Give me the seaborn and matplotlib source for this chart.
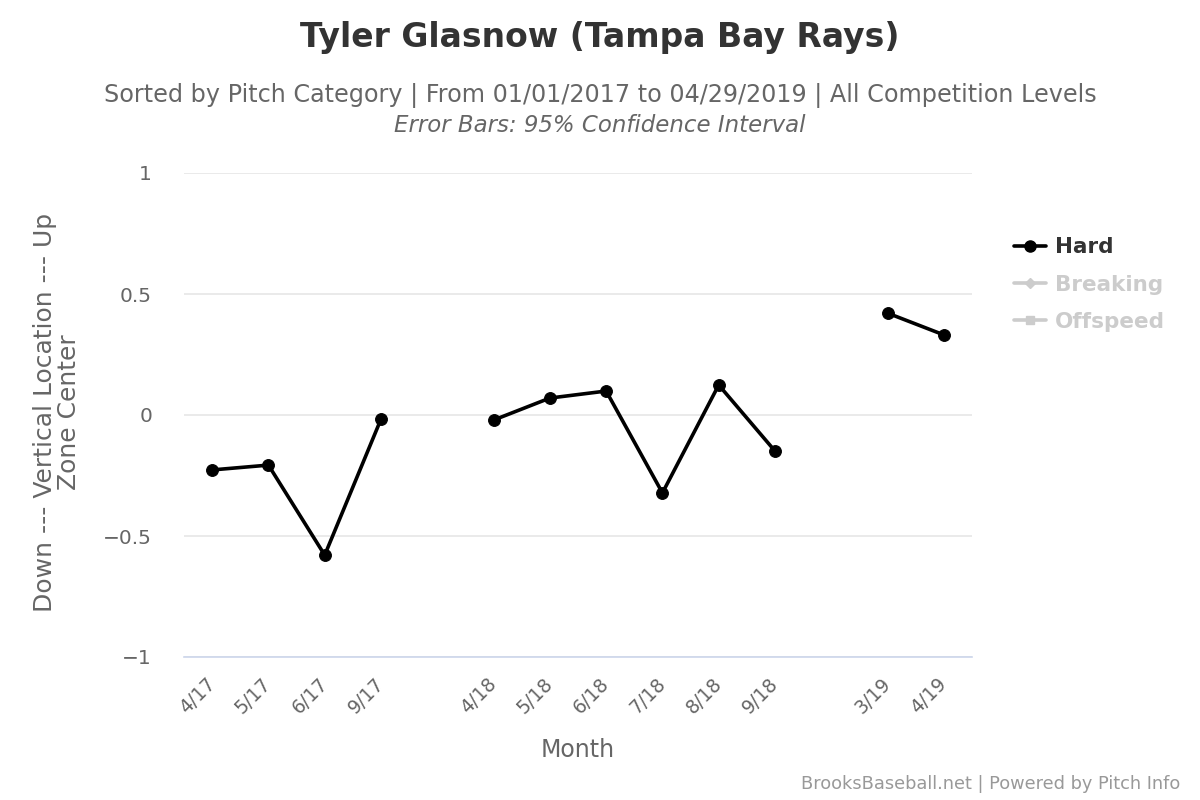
import numpy as np
import pandas as pd
import matplotlib.pyplot as plt
import seaborn as sns
from matplotlib.lines import Line2D

# month slots, "" = empty gap slot between seasons
months = ["4/17", "5/17", "6/17", "9/17", "",
          "4/18", "5/18", "6/18", "7/18", "8/18", "9/18", "",
          "3/19", "4/19"]
hard = [-0.227, -0.207, -0.579, -0.017, np.nan,
        -0.021, 0.070, 0.099, -0.322, 0.124, -0.149, np.nan,
        0.421, 0.331]
season = ["2017"] * 5 + ["2018"] * 7 + ["2019"] * 2

df = pd.DataFrame({"slot": range(len(months)), "month": months,
                   "hard": hard, "season": season}).dropna()

sns.set_style("white")
plt.rcParams["font.family"] = ["DejaVu Sans"]

fig = plt.figure(figsize=(12, 8), dpi=100)
ax = fig.add_axes([184 / 1200, 1 - 657 / 800, (972 - 184) / 1200, (657 - 173) / 800])

sns.lineplot(data=df, x="slot", y="hard", units="season", estimator=None,
             color="black", linewidth=2.6, marker="o", markersize=8.5,
             markeredgecolor="black", ax=ax, clip_on=False, legend=False)

ax.set_xlim(-0.5, len(months) - 0.5)
ax.set_ylim(-1, 1)
ticks = [i for i, m in enumerate(months) if m]
ax.set_xticks(ticks)
ax.set_xticklabels([months[i] for i in ticks], rotation=45, ha="right", va="center",
                   rotation_mode="anchor", fontsize=13.5, color="#666666")
ax.set_yticks([-1, -0.5, 0, 0.5, 1])
ax.set_yticklabels(["\u22121", "\u22120.5", "0", "0.5", "1"], fontsize=14.5, color="#666666")
ax.tick_params(axis="both", length=0)
ax.tick_params(axis="y", pad=23)
ax.tick_params(axis="x", pad=17)
ax.grid(axis="y", color="#e6e6e6", linewidth=1.2)
ax.set_axisbelow(True)
for s in ["top", "right", "left"]:
    ax.spines[s].set_visible(False)
ax.spines["bottom"].set_color("#ccd6eb")
ax.spines["bottom"].set_linewidth(1.2)

ax.set_xlabel("Month", fontsize=17, color="#666666", va="center")
ax.xaxis.set_label_coords(0.5, (657 - 750) / 484)
ax.set_ylabel("Down --- Vertical Location --- Up\nZone Center", fontsize=18,
              color="#666666", linespacing=1.05, va="center", ha="center")
ax.yaxis.set_label_coords((57 - 184) / 788, 0.505)

fig.text(0.5, 1 - 37 / 800, "Tyler Glasnow (Tampa Bay Rays)", ha="center", va="center",
         fontsize=23.8, fontweight="bold", color="#333333")
fig.text(0.5, 1 - 96 / 800,
         "Sorted by Pitch Category | From 01/01/2017 to 04/29/2019 | All Competition Levels",
         ha="center", va="center", fontsize=17.2, color="#666666")
fig.text(0.5, 1 - 125 / 800, "Error Bars: 95% Confidence Interval", ha="center",
         va="center", fontsize=16.5, color="#666666", style="italic")
fig.text(1180 / 1200, 1 - 784 / 800, "BrooksBaseball.net | Powered by Pitch Info",
         ha="right", va="center", fontsize=12.8, color="#999999")

handles = [
    Line2D([], [], color="black", linewidth=2.6, marker="o", markersize=8),
    Line2D([], [], color="#cccccc", linewidth=2.6, marker="D", markersize=5),
    Line2D([], [], color="#cccccc", linewidth=2.6, marker="s", markersize=6),
]
leg = fig.legend(handles, ["Hard", "Breaking", "Offspeed"], loc="upper left",
                 bbox_to_anchor=(995 / 1200, 1 - 218 / 800), frameon=False,
                 prop={"size": 15.5, "weight": "bold"}, handlelength=1.45,
                 labelspacing=0.8, handletextpad=0.45)
for t, c in zip(leg.get_texts(), ["#333333", "#cccccc", "#cccccc"]):
    t.set_color(c)

fig.savefig("out.png", dpi=100)
